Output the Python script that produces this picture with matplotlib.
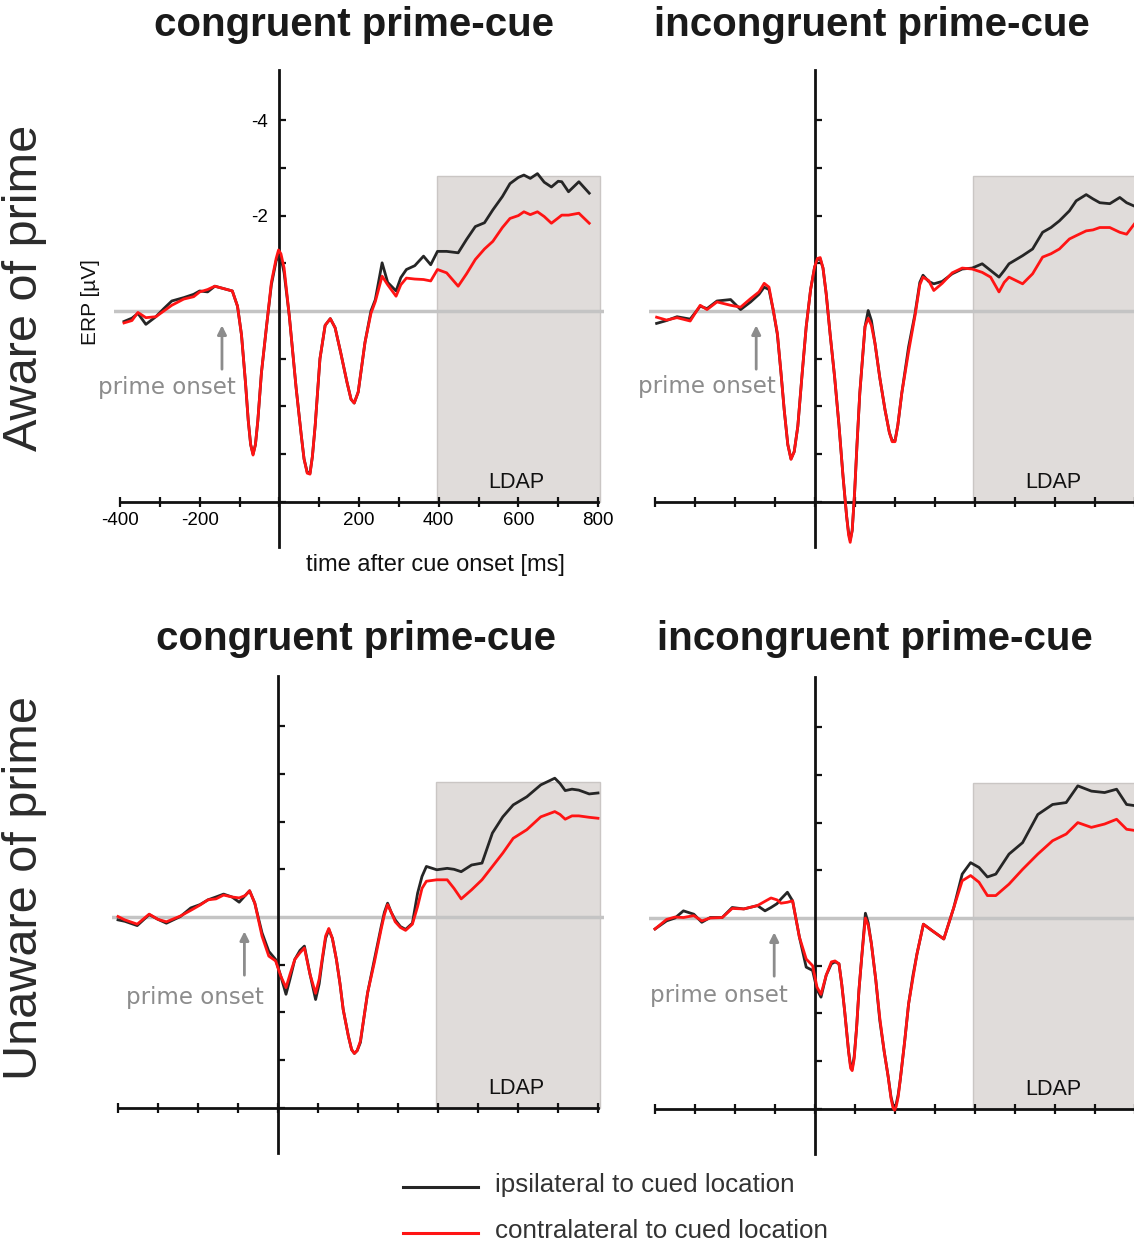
import matplotlib
matplotlib.use("Agg")
import matplotlib.pyplot as plt
from matplotlib.patches import Rectangle

# ---- data (time in ms, ERP in microvolt) ----
t_aw_con = [-390, -370, -355, -335, -310, -290, -270, -240, -215, -200, -180, -162, -140, -118,
            -105, -95, -85, -78, -72, -66, -60, -54, -45, -32, -20, -8, -2, 4, 12, 25, 42, 55,
            62, 70, 77, 83, 90, 102, 115, 128, 140, 154, 170, 180, 188, 198, 215, 230, 241,
            258, 272, 293, 305, 319, 340, 362, 380, 397, 420, 449, 470, 492, 515, 536, 560,
            579, 600, 614, 630, 648, 665, 683, 700, 709, 726, 752, 778]
ipsi_aw_con = [0.22, 0.15, 0.05, 0.28, 0.12, -0.05, -0.21, -0.28, -0.35, -0.42, -0.4, -0.52, -0.47,
               -0.42, -0.1, 0.5, 1.5, 2.3, 2.8, 3.0, 2.8, 2.3, 1.3, 0.31, -0.55, -1.05, -1.15,
               -1.12, -0.8, 0.1, 1.6, 2.6, 3.1, 3.38, 3.4, 3.05, 2.4, 1.0, 0.3, 0.16, 0.35,
               0.87, 1.5, 1.85, 1.93, 1.7, 0.66, 0.0, -0.24, -1.01, -0.6, -0.42, -0.7, -0.87,
               -0.95, -1.15, -0.97, -1.25, -1.25, -1.22, -1.5, -1.77, -1.85, -2.12, -2.4, -2.67,
               -2.8, -2.85, -2.78, -2.88, -2.7, -2.6, -2.72, -2.71, -2.5, -2.71, -2.47]
contra_aw_con = [0.25, 0.2, 0.03, 0.14, 0.12, 0.0, -0.12, -0.25, -0.3, -0.4, -0.45, -0.52, -0.47,
                 -0.42, -0.1, 0.5, 1.5, 2.3, 2.8, 3.02, 2.8, 2.3, 1.3, 0.31, -0.6, -1.1, -1.28,
                 -1.2, -0.9, 0.1, 1.6, 2.6, 3.1, 3.4, 3.42, 3.05, 2.4, 1.0, 0.3, 0.16, 0.35,
                 0.87, 1.5, 1.85, 1.93, 1.7, 0.66, 0.05, -0.2, -0.73, -0.55, -0.31, -0.55, -0.69,
                 -0.67, -0.66, -0.63, -0.87, -0.8, -0.52, -0.78, -1.08, -1.3, -1.46, -1.75, -1.94,
                 -2.0, -2.08, -2.02, -2.08, -1.98, -1.84, -1.95, -2.01, -2.01, -2.05, -1.84]

t_aw_inc = [-396, -371, -345, -312, -287, -270, -245, -211, -186, -161, -140, -127, -115, -104,
            -94, -85, -77, -68, -60, -52, -43, -32, -22, -11, -1, 6, 13, 20, 28, 38, 49, 60, 70,
            79, 84, 88, 93, 99, 105, 112, 125, 133, 141, 150, 162, 175, 186, 193, 200, 207,
            217, 234, 250, 262, 270, 284, 297, 318, 343, 368, 393, 418, 439, 460, 473, 485,
            519, 544, 569, 590, 611, 636, 653, 678, 695, 712, 737, 762, 779, 798]
ipsi_aw_inc = [0.26, 0.2, 0.12, 0.17, -0.1, -0.05, -0.21, -0.24, -0.03, -0.19, -0.35, -0.5, -0.45,
               0.0, 0.5, 1.3, 2.07, 2.8, 3.1, 2.95, 2.42, 1.3, 0.33, -0.45, -0.92, -1.08, -1.09,
               -0.9, -0.36, 0.5, 1.38, 2.4, 3.46, 4.3, 4.65, 4.8, 4.6, 3.81, 2.8, 1.72, 0.33,
               -0.01, 0.2, 0.68, 1.4, 2.07, 2.55, 2.72, 2.72, 2.4, 1.72, 0.75, 0.06, -0.6, -0.75,
               -0.62, -0.57, -0.62, -0.78, -0.88, -0.9, -0.99, -0.85, -0.71, -0.85, -0.99, -1.16,
               -1.3, -1.65, -1.75, -1.89, -2.1, -2.31, -2.44, -2.35, -2.27, -2.25, -2.38, -2.27,
               -2.2]
contra_aw_inc = [0.13, 0.19, 0.14, 0.21, -0.12, -0.03, -0.19, -0.12, -0.08, -0.26, -0.4, -0.58,
                 -0.5, 0.0, 0.47, 1.3, 2.07, 2.8, 3.11, 2.95, 2.42, 1.3, 0.33, -0.45, -0.92,
                 -1.1, -1.12, -0.9, -0.36, 0.5, 1.38, 2.4, 3.46, 4.3, 4.7, 4.85, 4.6, 3.81, 2.8,
                 1.72, 0.33, 0.15, 0.3, 0.68, 1.4, 2.07, 2.55, 2.74, 2.74, 2.4, 1.72, 0.85, 0.1,
                 -0.55, -0.71, -0.64, -0.43, -0.58, -0.8, -0.9, -0.88, -0.81, -0.71, -0.4, -0.6,
                 -0.71, -0.57, -0.78, -1.13, -1.2, -1.3, -1.51, -1.58, -1.68, -1.7, -1.75, -1.75,
                 -1.65, -1.61, -1.82]

t_un_con = [-400, -383, -352, -322, -300, -279, -244, -218, -195, -175, -155, -136, -115, -97,
            -82, -71, -58, -40, -23, -6, 7, 20, 30, 42, 55, 66, 80, 94, 103, 111, 119, 127,
            136, 146, 155, 163, 176, 184, 191, 198, 206, 215, 224, 241, 258, 266, 274, 283,
            293, 306, 319, 336, 349, 360, 371, 397, 423, 440, 458, 484, 510, 536, 562, 588,
            622, 657, 692, 705, 718, 735, 752, 778, 800]
ipsi_un_con = [0.06, 0.09, 0.18, -0.05, 0.05, 0.13, -0.01, -0.19, -0.26, -0.36, -0.42, -0.48,
               -0.42, -0.31, -0.45, -0.55, -0.29, 0.33, 0.72, 0.89, 1.24, 1.62, 1.3, 0.89, 0.7,
               0.61, 1.2, 1.73, 1.4, 0.89, 0.45, 0.26, 0.45, 0.89, 1.4, 1.94, 2.5, 2.78, 2.86,
               2.8, 2.63, 2.1, 1.59, 0.89, 0.2, -0.1, -0.29, -0.1, 0.06, 0.2, 0.26, 0.13, -0.5,
               -0.85, -1.06, -0.99, -1.02, -1.0, -0.95, -1.09, -1.13, -1.76, -2.1, -2.35, -2.52,
               -2.77, -2.91, -2.8, -2.65, -2.68, -2.66, -2.58, -2.6]
contra_un_con = [-0.01, 0.06, 0.15, -0.06, 0.05, 0.1, -0.02, -0.14, -0.25, -0.36, -0.38, -0.46,
                 -0.42, -0.4, -0.45, -0.55, -0.29, 0.4, 0.82, 0.92, 1.24, 1.48, 1.2, 0.89, 0.75,
                 0.65, 1.2, 1.6, 1.3, 0.85, 0.4, 0.24, 0.45, 0.89, 1.4, 1.94, 2.5, 2.78, 2.86,
                 2.8, 2.6, 2.1, 1.59, 0.95, 0.25, -0.05, -0.26, -0.1, 0.1, 0.22, 0.28, 0.15,
                 -0.22, -0.6, -0.75, -0.78, -0.78, -0.6, -0.38, -0.57, -0.78, -1.06, -1.34,
                 -1.65, -1.83, -2.1, -2.21, -2.15, -2.05, -2.12, -2.12, -2.09, -2.07]

t_un_inc = [-400, -371, -350, -329, -303, -283, -262, -232, -207, -178, -144, -125, -110, -95,
            -85, -69, -56, -39, -22, -6, 5, 15, 28, 41, 50, 60, 67, 74, 84, 89, 93, 98, 104,
            110, 117, 126, 133, 141, 152, 162, 173, 183, 190, 195, 199, 203, 208, 213, 224, 234,
            245, 255, 271, 292, 322, 347, 368, 389, 410, 431, 452, 485, 519, 557, 594, 628,
            657, 691, 724, 754, 779, 804]
ipsi_un_inc = [0.23, 0.06, 0.0, -0.15, -0.08, 0.09, -0.01, -0.01, -0.22, -0.19, -0.26, -0.15,
               -0.22, -0.3, -0.4, -0.54, -0.36, 0.4, 1.03, 1.1, 1.5, 1.66, 1.2, 0.96, 0.92,
               0.96, 1.4, 1.94, 2.8, 3.1, 3.15, 2.9, 2.3, 1.5, 0.8, -0.1, 0.1, 0.54, 1.3, 2.15,
               2.8, 3.33, 3.75, 3.92, 3.97, 3.9, 3.7, 3.4, 2.6, 1.8, 1.2, 0.75, 0.13, 0.26, 0.44,
               -0.22, -0.92, -1.16, -1.06, -0.86, -0.92, -1.34, -1.58, -2.17, -2.38, -2.42,
               -2.77, -2.66, -2.63, -2.7, -2.38, -2.35]
contra_un_inc = [0.23, 0.03, -0.02, -0.01, -0.05, 0.06, 0.0, -0.01, -0.2, -0.19, -0.26, -0.35,
                 -0.42, -0.38, -0.31, -0.33, -0.36, 0.4, 0.86, 1.0, 1.45, 1.6, 1.2, 0.92, 0.9,
                 0.96, 1.4, 1.94, 2.8, 3.15, 3.2, 2.95, 2.3, 1.5, 0.8, 0.0, 0.15, 0.54, 1.3, 2.1,
                 2.8, 3.33, 3.78, 3.98, 4.03, 3.95, 3.75, 3.4, 2.6, 1.8, 1.25, 0.75, 0.13, 0.26,
                 0.44, -0.22, -0.78, -0.89, -0.75, -0.47, -0.47, -0.71, -1.02, -1.34, -1.62,
                 -1.76, -2.0, -1.9, -1.97, -2.07, -1.86, -1.83]

col_titles = ["congruent prime-cue", "incongruent prime-cue"]
row_titles = ["Aware of prime", "Unaware of prime"]
legend_labels = ["ipsilateral to cued location", "contralateral to cued location"]
xtick_vals = list(range(-400, 801, 100))
xtick_labels = ["-400", "", "-200", "", "", "", "200", "", "400", "", "600", "", "800"]
ytick_vals = [-4, -3, -2, -1, 1, 2, 3, 4]
ytick_labels = ["-4", "", "-2", "", "", "", "", ""]

W, H = 1134, 1247
UV = 47.7  # pixels per microvolt
BLACK = "#262626"
RED = "#ff1414"
GREY = "#8c8c8c"

plt.rcParams["font.family"] = ["Liberation Sans", "DejaVu Sans"]
fig = plt.figure(figsize=(W / 100, H / 100), dpi=100)


def make_axes(left_px, right_px, zero_px):
    # left_px/right_px: pixel of -400 / 800 ms, zero_px: pixel row of 0 uV
    s = (right_px - left_px) / 1200.0
    x0, x1 = -415, 815
    y0, y1 = -5.3, 5.3
    lft = left_px + (x0 + 400) * s
    top = zero_px + y0 * UV
    bot = zero_px + y1 * UV
    ax = fig.add_axes([lft / W, 1 - bot / H, (x1 - x0) * s / W, (bot - top) / H])
    ax.set_xlim(x0, x1)
    ax.set_ylim(y1, y0)
    ax.patch.set_alpha(0)
    return ax


panels = [
    (make_axes(120, 598, 311), t_aw_con, ipsi_aw_con, contra_aw_con, -144, (-283, 1.61)),
    (make_axes(655, 1135, 311), t_aw_inc, ipsi_aw_inc, contra_aw_inc, -147, (-270, 1.58)),
    (make_axes(118, 598, 917), t_un_con, ipsi_un_con, contra_un_con, -84, (-209, 1.69)),
    (make_axes(655, 1135, 918), t_un_inc, ipsi_un_inc, contra_un_inc, -102, (-240, 1.62)),
]

for i, (ax, t, ipsi, contra, arrow_t, txt_pos) in enumerate(panels):
    # LDAP window
    ax.add_patch(Rectangle((395, -2.82), 410, 6.82, facecolor="#e0dcda",
                           edgecolor="#cac6c4", lw=1, zorder=0))
    ax.text(595, 3.6, "LDAP", ha="center", va="center", fontsize=15.5, color="#111111")
    ax.axhline(0, color="#c4c4c4", lw=2.5, zorder=1)

    ax.plot(t, ipsi, color=BLACK, lw=2, zorder=3, solid_joinstyle="round")
    ax.plot(t, contra, color=RED, lw=2, zorder=4, solid_joinstyle="round")

    # prime onset marker
    ax.annotate("", xy=(arrow_t, 0.3), xytext=(arrow_t, 1.22),
                arrowprops=dict(arrowstyle="-|>", color=GREY, lw=2, mutation_scale=13,
                                shrinkA=0, shrinkB=0))
    ax.text(txt_pos[0], txt_pos[1], "prime onset", ha="center", va="center",
            fontsize=16.5, color=GREY, family="DejaVu Sans")

    for side in ["top", "right"]:
        ax.spines[side].set_visible(False)
    ax.spines["left"].set_position(("data", 0))
    ax.spines["bottom"].set_position(("data", 4))
    ax.spines["left"].set_bounds(-5.05, 4.95)
    ax.spines["bottom"].set_bounds(-400, 800)
    for side in ["left", "bottom"]:
        ax.spines[side].set_linewidth(2)
        ax.spines[side].set_color("#111111")
        ax.spines[side].set_zorder(2)

    ax.set_xticks(xtick_vals)
    ax.set_yticks(ytick_vals)
    ax.tick_params(axis="x", direction="inout", length=7, width=1.6, color="#111111",
                   labelsize=13.5, pad=4)
    ax.tick_params(axis="y", direction="in", length=5, width=1.6, color="#111111",
                   labelsize=13.5, pad=8)
    if i == 0:
        ax.set_xticklabels(xtick_labels)
        ax.set_yticklabels(ytick_labels)
    else:
        ax.set_xticklabels([])
        ax.set_yticklabels([])


def fx(px):
    return px / W


def fy(py):
    return 1 - py / H


# column titles
for cx, label in zip([354, 872], col_titles):
    fig.text(fx(cx), fy(36), label, ha="center", va="baseline", fontsize=29,
             fontweight="bold", color="#1a1a1a")
for cx, label in zip([356, 875], col_titles):
    fig.text(fx(cx), fy(650), label, ha="center", va="baseline", fontsize=29,
             fontweight="bold", color="#1a1a1a")

# row titles
fig.text(fx(25), fy(288), row_titles[0], rotation=90, ha="center", va="center",
         fontsize=35, color="#2b2b2b")
fig.text(fx(25), fy(888), row_titles[1], rotation=90, ha="center", va="center",
         fontsize=35, color="#2b2b2b")

# axis titles (only on first panel)
fig.text(fx(90), fy(302), "ERP [µV]", rotation=90, ha="center", va="center",
         fontsize=15, color="#111111")
fig.text(fx(435), fy(565), "time after cue onset [ms]", ha="center", va="center",
         fontsize=17, color="#111111")

# legend drawn by hand at the bottom
lax = fig.add_axes([0, 0, 1, 1])
lax.set_xlim(0, W)
lax.set_ylim(H, 0)
lax.axis("off")
for yy, c, label in zip([1187, 1233], [BLACK, RED], legend_labels):
    lax.plot([403, 478], [yy, yy], color=c, lw=2.2)
    lax.text(495, yy - 2, label, ha="left", va="center", fontsize=18.7, color="#333333")

fig.savefig("out.png", dpi=100)
